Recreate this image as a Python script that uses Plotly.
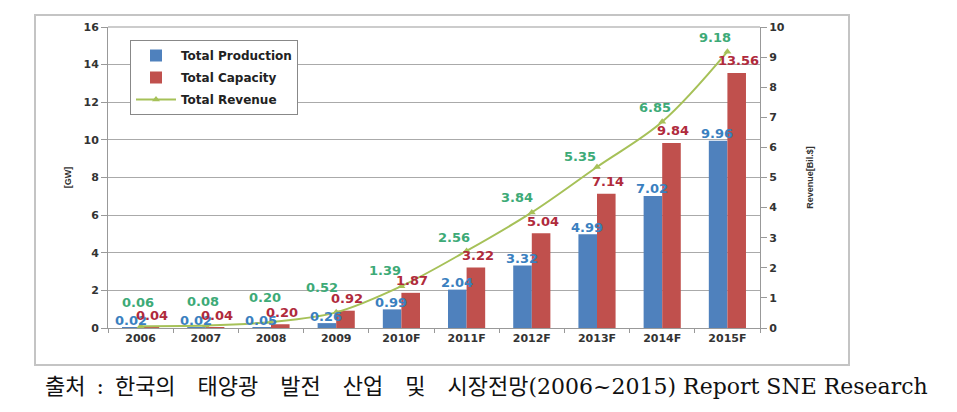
import plotly.graph_objects as go

categories = ["2006", "2007", "2008", "2009", "2010F", "2011F", "2012F", "2013F", "2014F", "2015F"]
production = [0.02, 0.02, 0.05, 0.26, 0.99, 2.04, 3.32, 4.99, 7.02, 9.96]
capacity = [0.04, 0.04, 0.20, 0.92, 1.87, 3.22, 5.04, 7.14, 9.84, 13.56]
revenue = [0.06, 0.08, 0.20, 0.52, 1.39, 2.56, 3.84, 5.35, 6.85, 9.18]
left_ticks = [0, 2, 4, 6, 8, 10, 12, 14, 16]
right_ticks = [0, 1, 2, 3, 4, 5, 6, 7, 8, 9, 10]
caption = "출처\u2002:\u2002한국의\u2003태양광\u2003발전\u2003산업\u2003및\u2003시장전망(2006~2015) Report SNE Research"

# data-label offsets (pixels), as placed in the original
rev_label_dx = [-3, -3, -6, -14, -16, -13, -15, -17, -7, -12]
rev_label_dy = [24, 24, 24, 25, 16, 13, 15, 10, 14, 14]
prod_label_dx, prod_label_dy = -10, 7
cap_label_dx, cap_label_dy = 11, 12

# page body has an 8px margin; work in screen pixels
OFF = 8
W, H = 957 - OFF, 412 - OFF
L, R, T, B = 108, 760, 27, 328  # plot area in screen pixels
pw, ph = R - L, B - T


def px(x):
    return (x - L) / pw


def py(y):
    return (B - y) / ph


label_font = dict(family="DejaVu Sans", size=13, weight="bold")
tick_font = dict(family="DejaVu Sans", size=11, color="#333333", weight="bold")
title_font = dict(family="Liberation Sans, Arial", size=9, color="#333333", weight="bold")

fig = go.Figure()
fig.add_trace(go.Bar(
    x=categories, y=production, name="Total Production", legendgroup="a",
    marker=dict(color="#4F81BD", line=dict(width=0)),
))
fig.add_trace(go.Bar(
    x=categories, y=capacity, name="Total Capacity", legendgroup="b",
    marker=dict(color="#C0504D", line=dict(width=0)),
))
fig.add_trace(go.Scatter(
    x=categories, y=revenue, name="Total Revenue", yaxis="y2", legendgroup="c",
    mode="lines+markers",
    line=dict(color="#A6C158", width=2, shape="spline"),
    marker=dict(symbol="triangle-up", size=7, color="#A6C158"),
    cliponaxis=False,
))

annotations = []
# data labels: x given as category index on the category axis
for i, v in enumerate(production):
    annotations.append(dict(x=i, y=v, xref="x", yref="y", text=f"{v:.2f}", showarrow=False,
                            xshift=prod_label_dx, yshift=prod_label_dy,
                            xanchor="center", yanchor="middle",
                            font=dict(color="#3A80C0", **label_font)))
for i, v in enumerate(capacity):
    annotations.append(dict(x=i, y=v, xref="x", yref="y", text=f"{v:.2f}", showarrow=False,
                            xshift=cap_label_dx, yshift=cap_label_dy,
                            xanchor="center", yanchor="middle",
                            font=dict(color="#B02A3C", **label_font)))
for i, (v, dx, dy) in enumerate(zip(revenue, rev_label_dx, rev_label_dy)):
    annotations.append(dict(x=i, y=v, xref="x", yref="y2", text=f"{v:.2f}", showarrow=False,
                            xshift=dx, yshift=dy, xanchor="center", yanchor="middle",
                            font=dict(color="#3DAA77", **label_font)))
annotations.append(dict(
    text=caption, xref="paper", yref="paper", x=px(486), y=py(386),
    xanchor="center", yanchor="middle", showarrow=False,
    font=dict(family="DejaVu Serif, Noto Sans CJK KR", size=22, color="#111111"),
))

fig.update_layout(
    width=W, height=H,
    margin=dict(l=L - OFF, r=W - (R - OFF), t=T - OFF, b=H - (B - OFF)),
    paper_bgcolor="white", plot_bgcolor="white",
    barmode="group", bargap=0.43, bargroupgap=0,
    showlegend=True,
    legend=dict(
        x=px(130), y=py(40), xanchor="left", yanchor="top",
        bordercolor="#888888", borderwidth=1, bgcolor="white",
        font=dict(family="DejaVu Sans", size=12, color="#222222", weight="bold"),
        tracegroupgap=3, itemwidth=40,
    ),
    xaxis=dict(
        type="category", categoryorder="array", categoryarray=categories,
        range=[-0.5, len(categories) - 0.5],
        tickfont=tick_font, showgrid=False,
        showline=True, linecolor="#999999", linewidth=1,
        ticks="outside", tickson="boundaries", ticklen=4, tickcolor="#999999",
    ),
    yaxis=dict(
        range=[0, 16], tickvals=left_ticks, tickfont=tick_font,
        showgrid=True, gridcolor="#AAAAAA", gridwidth=1,
        showline=True, linecolor="#999999", linewidth=1,
        ticks="outside", ticklen=6, tickcolor="#999999", zeroline=False,
        title=dict(text="[GW]", font=title_font, standoff=10),
    ),
    yaxis2=dict(
        range=[0, 10], tickvals=right_ticks, tickfont=tick_font,
        overlaying="y", side="right", showgrid=False,
        showline=True, linecolor="#999999", linewidth=1,
        ticks="outside", ticklen=6, tickcolor="#999999", zeroline=False,
        title=dict(text="Revenue[Bil.$]", font=title_font, standoff=22),
    ),
    shapes=[
        dict(type="rect", xref="paper", yref="paper",
             x0=px(35), x1=px(849), y0=py(365), y1=py(15),
             line=dict(color="#C4C4C4", width=2), fillcolor="rgba(0,0,0,0)", layer="below"),
        dict(type="line", xref="paper", yref="paper",
             x0=0, x1=1, y0=1, y1=1, line=dict(color="#999999", width=1)),
    ],
    annotations=annotations,
)

fig.write_html("out.html")
